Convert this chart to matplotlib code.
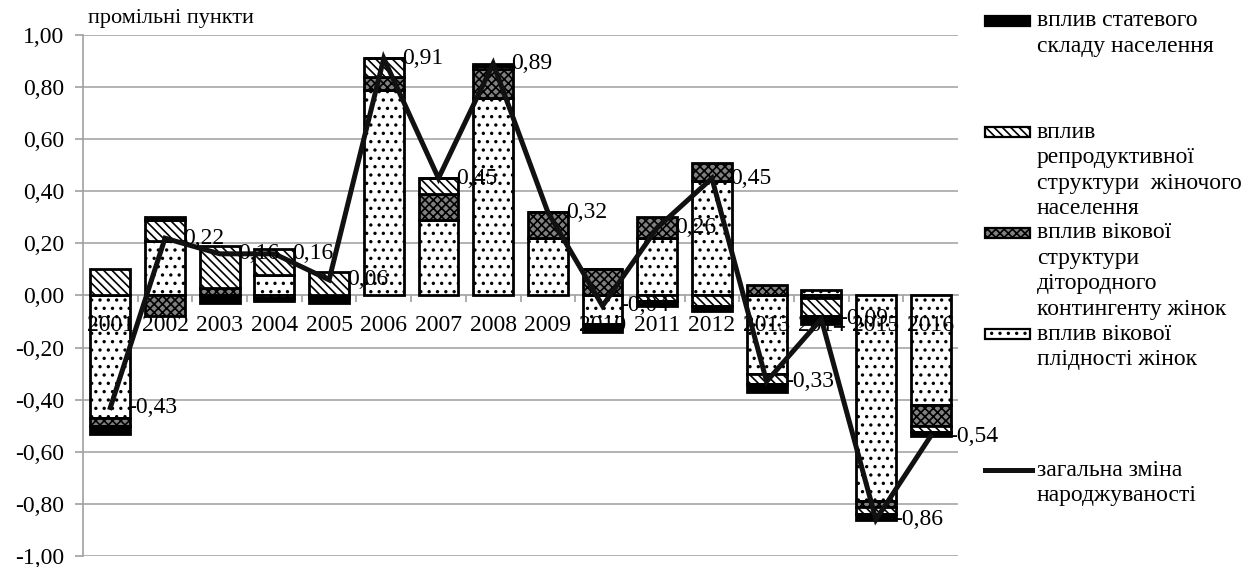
from matplotlib import pyplot as plt
from matplotlib.patches import Rectangle
from matplotlib.lines import Line2D
import numpy as np

plt.rcParams['font.family'] = ['Liberation Serif', 'DejaVu Serif']
plt.rcParams['hatch.linewidth'] = 1.2

years = ['2001', '2002', '2003', '2004', '2005', '2006', '2007', '2008',
         '2009', '2010', '2011', '2012', '2013', '2014', '2015', '2016']

# components of the change, stacked in this order (bottom to top)
plidnist = [-0.47, 0.21, 0.00, 0.08, -0.01, 0.79, 0.29, 0.76,
            0.22, -0.11, 0.22, 0.44, -0.30, 0.02, -0.79, -0.42]
vikova_str = [-0.03, -0.08, 0.03, -0.01, 0.00, 0.05, 0.10, 0.11,
              0.10, 0.10, 0.08, 0.07, 0.04, -0.01, -0.02, -0.08]
reprod = [0.10, 0.08, 0.16, 0.10, 0.09, 0.07, 0.06, 0.01,
          0.00, 0.00, -0.02, -0.04, -0.04, -0.07, -0.03, -0.025]
stateva = [-0.03, 0.01, -0.03, -0.01, -0.02, 0.00, 0.00, 0.01,
           0.00, -0.03, -0.02, -0.02, -0.03, -0.03, -0.02, -0.015]

total = [-0.43, 0.22, 0.16, 0.16, 0.06, 0.91, 0.45, 0.89,
         0.32, -0.04, 0.26, 0.45, -0.33, -0.09, -0.86, -0.54]

FS = 17
W, H = 1249, 567
fig = plt.figure(figsize=(W / 100, H / 100), dpi=100)
ax = fig.add_axes([83 / W, 1 - 556 / H, (958 - 83) / W, (556 - 35) / H])

# spines first: moving the bottom spine resets the ticks
for s in ['top', 'right']:
    ax.spines[s].set_visible(False)
ax.spines['bottom'].set_position(('data', 0))
ax.spines['bottom'].set_color('#a0a0a0')
ax.spines['bottom'].set_linewidth(1.2)
ax.spines['bottom'].set_zorder(1)
ax.spines['left'].set_color('#a0a0a0')
ax.spines['left'].set_linewidth(1.2)
ax.spines['left'].set_zorder(1)

x = np.arange(len(years))
pos_base = np.zeros(len(years))
neg_base = np.zeros(len(years))

series = [
    (plidnist, 'white', '..'),
    (vikova_str, '#808080', 'xxxx'),
    (reprod, 'white', '\\\\\\\\'),
    (stateva, 'black', None),
]
for vals, fc, hatch in series:
    vals = np.array(vals, dtype=float)
    bottom = np.where(vals >= 0, pos_base, neg_base)
    ax.bar(x, vals, width=0.73, bottom=bottom, color=fc, hatch=hatch,
           edgecolor='black', linewidth=2.0, zorder=2)
    pos_base = pos_base + np.where(vals > 0, vals, 0)
    neg_base = neg_base + np.where(vals < 0, vals, 0)

ax.plot(x, total, color='#111111', linewidth=3.6, zorder=4,
        solid_joinstyle='miter')
for xi, v in zip(x, total):
    ax.annotate(('%.2f' % v).replace('.', ','), (xi, v), xytext=(13, 0),
                textcoords='offset points', ha='left', va='center',
                fontsize=FS, zorder=5)

ax.set_xlim(-0.5, len(years) - 0.5)
ax.set_ylim(-1.0, 1.0)
yt = np.round(np.arange(-1.0, 1.01, 0.2), 2) + 0.0
ax.set_yticks(yt)
ax.set_yticklabels([('%.2f' % t).replace('.', ',').replace('-0,00', '0,00')
                    for t in yt], fontsize=FS)
ax.set_xticks(x)
ax.set_xticklabels(years, fontsize=FS)
ax.set_xticks(np.arange(0.5, len(years) - 0.5, 1.0), minor=True)
ax.tick_params(axis='x', which='major', length=0, pad=14)
ax.tick_params(axis='x', which='minor', length=5, width=1.2, color='#a0a0a0',
               direction='out')
ax.tick_params(axis='y', length=5.5, width=1.2, color='#a0a0a0', pad=8)

# gridlines behind the bars, axis labels above them
ax.set_axisbelow(False)
for t in yt:
    if t != 0:
        ax.axhline(t, color='#a6a6a6', linewidth=1.2, zorder=0.5)

fig.text(88 / W, 1 - 18 / H, 'промільні пункти', fontsize=16,
         ha='left', va='center')

# legend drawn by hand on the right
legend_items = [
    (21, 'black', None, ['вплив статевого', 'складу населення']),
    (132, 'white', '\\\\\\\\', ['вплив', 'репродуктивної',
                                'структури  жіночого', 'населення']),
    (233, '#808080', 'xxxx', ['вплив вікової', 'структури', 'дітородного',
                              'контингенту жінок']),
    (334, 'white', '..', ['вплив вікової', 'плідності жінок']),
]
for ypix, fc, hatch, lines in legend_items:
    fig.patches.append(Rectangle((985 / W, 1 - (ypix + 5) / H), 45 / W, 10 / H,
                                 transform=fig.transFigure, facecolor=fc,
                                 hatch=hatch, edgecolor='black', linewidth=1.6))
    for i, t in enumerate(lines):
        fig.text(1037 / W, 1 - (ypix + i * 25.5) / H, t, fontsize=FS,
                 ha='left', va='center')

fig.lines.append(Line2D([985 / W, 1032 / W], [1 - 470 / H, 1 - 470 / H],
                        transform=fig.transFigure, color='#111111',
                        linewidth=3.6))
for i, t in enumerate(['загальна зміна', 'народжуваності']):
    fig.text(1037 / W, 1 - (470 + i * 25.5) / H, t, fontsize=FS,
             ha='left', va='center')

fig.savefig('out.png', dpi=100)
